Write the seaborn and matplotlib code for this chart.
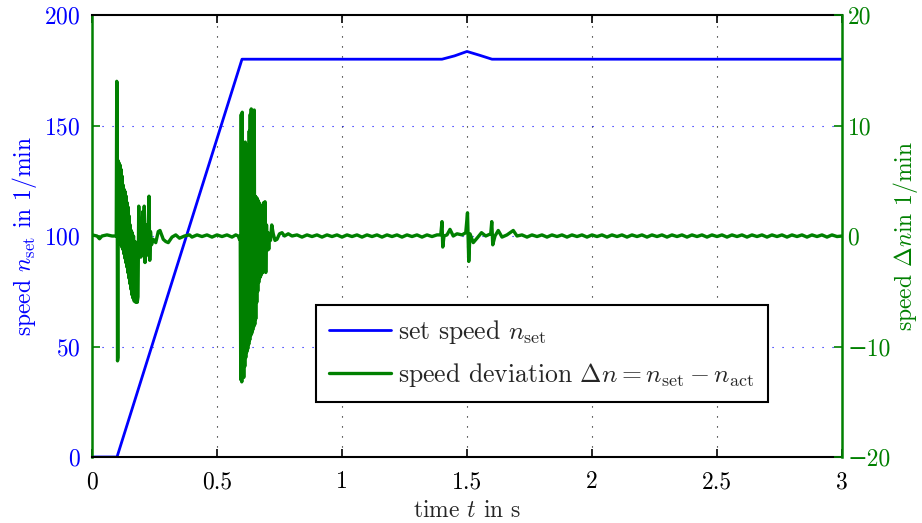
import numpy as np
import pandas as pd
import matplotlib
matplotlib.use('Agg')
import matplotlib.pyplot as plt
import seaborn as sns

## set speed (blue, left axis)
t_set = [0.0, 0.1, 0.6, 1.4, 1.45, 1.5, 1.55, 1.6, 3.0]
n_set = [0.0, 0.0, 180.0, 180.0, 181.5, 183.5, 181.8, 180.0, 180.0]

## speed deviation (green, right axis)
dev_start = [(0.0, 0.1), (0.02, 0.0), (0.03, -0.25), (0.04, 0.0), (0.06, 0.1), (0.08, 0.0), (0.097, 0.0)]
dev_burst1 = [
    (0.099, 14.0), (0.1005, 13.8), (0.102, -11.3), (0.104, -11.0), (0.105, 6.8), (0.107, -0.4),
    (0.109, 6.6), (0.111, -0.5), (0.113, 6.4), (0.115, -0.8), (0.117, 6.0), (0.119, -1.0),
    (0.121, 5.4), (0.123, -1.2), (0.125, 4.6), (0.127, -1.6), (0.129, 4.2), (0.131, -2.0),
    (0.133, 4.0), (0.135, -2.4), (0.137, 3.6), (0.139, -2.8), (0.141, 3.0), (0.143, -3.3),
    (0.145, 2.6), (0.147, -3.8), (0.149, 1.8), (0.151, -4.3), (0.153, 1.0), (0.155, -4.8),
    (0.157, 0.5), (0.159, -5.3), (0.161, 0.3), (0.163, -5.6), (0.166, 0.0), (0.169, -5.9),
    (0.172, -0.5), (0.175, -6.0), (0.178, -1.5), (0.181, -6.0), (0.184, -5.5), (0.187, 2.7),
    (0.190, -1.9), (0.193, -1.0), (0.196, -1.9), (0.199, -0.8), (0.203, 2.2), (0.206, -1.5),
    (0.209, 2.7), (0.212, -2.4), (0.214, 0.5), (0.217, -1.8), (0.220, 1.0), (0.223, -0.8),
    (0.228, 3.6), (0.231, -2.2), (0.234, 0.4), (0.238, -0.8), (0.245, -0.3), (0.255, -0.6),
    (0.265, 0.4), (0.272, 0.5), (0.285, -0.3), (0.295, -0.5), (0.305, -0.6), (0.32, -0.1),
    (0.335, 0.1), (0.35, -0.2), (0.37, 0.0),
]
dev_flat1 = [(0.39, 0.1), (0.40, -0.1), (0.42, 0.1), (0.44, -0.05), (0.46, 0.1), (0.48, -0.1),
             (0.50, 0.1), (0.52, -0.05), (0.54, 0.1), (0.56, -0.1), (0.575, 0.1)]
dev_burst2 = [
    (0.585, 0.0), (0.590, -0.3), (0.593, 0.0), (0.595, -13.0), (0.597, 11.0), (0.599, -13.2),
    (0.601, 11.2), (0.603, -12.5), (0.605, 8.0), (0.607, -12.8), (0.609, 7.5), (0.611, -11.8),
    (0.613, 8.5), (0.615, -11.0), (0.617, 7.0), (0.619, -10.5), (0.621, 8.2), (0.623, -10.2),
    (0.625, 7.8), (0.627, -9.8), (0.629, 9.5), (0.631, -9.4), (0.633, 11.0), (0.635, -9.0),
    (0.637, 11.5), (0.639, -8.8), (0.641, 11.3), (0.643, -8.5), (0.645, 10.5), (0.647, -8.2),
    (0.649, 11.4), (0.651, -8.0), (0.653, 3.6), (0.655, -7.5), (0.657, 3.5), (0.659, -6.0),
    (0.661, 3.4), (0.663, -5.0), (0.665, 3.2), (0.667, -4.2), (0.669, 3.0), (0.671, -3.8),
    (0.673, 2.8), (0.675, -3.6), (0.677, 2.6), (0.679, -3.4), (0.681, 2.4), (0.683, -3.3),
    (0.686, 3.0), (0.689, -2.5), (0.692, 3.1), (0.695, -3.3), (0.698, 1.0), (0.701, -1.3),
    (0.704, 0.3), (0.707, -1.2), (0.710, 0.2), (0.714, -0.4), (0.719, 1.0), (0.725, 0.2),
    (0.732, -0.4), (0.740, -0.3), (0.750, 0.2), (0.760, 0.3), (0.770, 0.0), (0.785, 0.2), (0.80, 0.0),
]
dev_flat2 = [(0.82, 0.1), (0.84, -0.1), (0.86, 0.1), (0.88, -0.05), (0.90, 0.1), (0.92, -0.1),
             (0.94, 0.1), (0.96, -0.05), (0.98, 0.1), (1.0, -0.1), (1.02, 0.1), (1.04, -0.05),
             (1.06, 0.1), (1.08, -0.1), (1.10, 0.1), (1.12, -0.05), (1.14, 0.1), (1.16, -0.1),
             (1.18, 0.1), (1.20, -0.05), (1.22, 0.1), (1.24, -0.1), (1.26, 0.1), (1.28, -0.05),
             (1.30, 0.1), (1.32, -0.1), (1.34, 0.1), (1.36, -0.05), (1.38, 0.1)]
dev_event = [
    (1.395, 0.1), (1.400, 1.3), (1.403, -1.0), (1.408, 0.0), (1.420, 0.1), (1.432, 0.6),
    (1.445, 0.0), (1.460, 0.2), (1.480, 0.1), (1.495, 0.3), (1.502, 2.1), (1.507, -2.3),
    (1.512, 0.2), (1.525, -0.6), (1.540, -0.2), (1.558, 0.3), (1.575, 0.0), (1.595, 0.2),
    (1.599, 1.3), (1.603, -0.8), (1.612, 0.0), (1.625, 0.5), (1.640, -0.1), (1.660, 0.1),
    (1.685, 0.5), (1.700, 0.0),
]
dev_flat3 = [(1.72, 0.1), (1.74, -0.1), (1.76, 0.1), (1.78, -0.05), (1.80, 0.1), (1.82, -0.1),
             (1.84, 0.1), (1.86, -0.05), (1.88, 0.1), (1.90, -0.1), (1.92, 0.1), (1.94, -0.05),
             (1.96, 0.1), (1.98, -0.1), (2.00, 0.1), (2.02, -0.05), (2.04, 0.1), (2.06, -0.1),
             (2.08, 0.1), (2.10, -0.05), (2.12, 0.1), (2.14, -0.1), (2.16, 0.1), (2.18, -0.05),
             (2.20, 0.1), (2.22, -0.1), (2.24, 0.1), (2.26, -0.05), (2.28, 0.1), (2.30, -0.1),
             (2.32, 0.1), (2.34, -0.05), (2.36, 0.1), (2.38, -0.1), (2.40, 0.1), (2.42, -0.05),
             (2.44, 0.1), (2.46, -0.1), (2.48, 0.1), (2.50, -0.05), (2.52, 0.1), (2.54, -0.1),
             (2.56, 0.1), (2.58, -0.05), (2.60, 0.1), (2.62, -0.1), (2.64, 0.1), (2.66, -0.05),
             (2.68, 0.1), (2.70, -0.1), (2.72, 0.1), (2.74, -0.05), (2.76, 0.1), (2.78, -0.1),
             (2.80, 0.1), (2.82, -0.05), (2.84, 0.1), (2.86, -0.1), (2.88, 0.1), (2.90, -0.05),
             (2.92, 0.1), (2.94, -0.1), (2.96, 0.1), (2.98, -0.05), (3.0, 0.0)]

x_ticks = [0, 0.5, 1, 1.5, 2, 2.5, 3]
x_labels = ['0', '0.5', '1', '1.5', '2', '2.5', '3']
left_ticks = [0, 50, 100, 150, 200]
right_ticks = [-20, -10, 0, 10, 20]
right_labels = ['\u221220', '\u221210', '0', '10', '20']

BLUE = '#0000ff'
GREEN = '#008000'
FS = 17

df_set = pd.DataFrame({'t': t_set, 'n': n_set})
df_dev = pd.DataFrame(dev_start + dev_burst1 + dev_flat1 + dev_burst2 + dev_flat2 + dev_event + dev_flat3,
                      columns=['t', 'dn'])

sns.set_style('white')
plt.rcParams['font.family'] = ['cmr10', 'DejaVu Serif']
plt.rcParams['mathtext.fontset'] = 'cm'
plt.rcParams['axes.formatter.use_mathtext'] = True
plt.rcParams['axes.unicode_minus'] = True

fig = plt.figure(figsize=(9.22, 5.23), dpi=100)
ax = fig.add_axes([92 / 922, 1 - 457 / 523, 750 / 922, 442 / 523])
ax2 = ax.twinx()

sns.lineplot(x='t', y='n', data=df_set, ax=ax, color=BLUE, linewidth=2.0,
             label=r'set speed $n_{\rm set}$', legend=False, estimator=None, sort=False)
sns.lineplot(x='t', y='dn', data=df_dev, ax=ax2, color=GREEN, linewidth=2.4,
             label=r'speed deviation $\Delta n = n_{\rm set} - n_{\rm act}$', legend=False,
             estimator=None, sort=False)

ax.set_xlim(0, 3)
ax.set_ylim(0, 200)
ax2.set_ylim(-20, 20)
ax.set_xticks(x_ticks)
ax.set_xticklabels(x_labels)
ax.set_yticks(left_ticks)
ax2.set_yticks(right_ticks)
ax2.set_yticklabels(right_labels)

# grid: vertical black dotted, horizontal blue dotted
for xv in x_ticks[1:-1]:
    ax.axvline(xv, color='black', linestyle=(0, (1, 8)), linewidth=0.8, zorder=0)
for yv in left_ticks[1:-1]:
    ax.axhline(yv, color=BLUE, linestyle=(0, (1, 8)), linewidth=0.8, zorder=0)

ax.tick_params(axis='x', direction='in', top=True, bottom=True, length=6, width=1.2,
               labelsize=FS, pad=10, colors='black')
ax.tick_params(axis='y', direction='in', left=True, right=False, length=6, width=1.2,
               labelsize=FS, pad=8, colors=GREEN, labelcolor=BLUE)
ax2.tick_params(axis='y', direction='in', right=True, length=6, width=1.2,
                labelsize=FS, pad=4, colors=GREEN, labelcolor=GREEN)

for sp in ['top', 'bottom']:
    ax.spines[sp].set_color('black')
    ax.spines[sp].set_linewidth(1.5)
    ax2.spines[sp].set_visible(False)
ax.spines['left'].set_color(GREEN)
ax.spines['left'].set_linewidth(1.8)
ax2.spines['left'].set_visible(False)
ax2.spines['right'].set_color(GREEN)
ax2.spines['right'].set_linewidth(1.8)
ax.spines['right'].set_visible(False)

ax.set_xlabel(r'time $t$ in s', fontsize=FS, labelpad=5)
ax.set_ylabel(r'speed $n_{\rm set}$ in 1/min', fontsize=FS, color=BLUE, labelpad=4)
ax2.set_ylabel(r'speed $\Delta n$in 1/min', fontsize=FS, color=GREEN, labelpad=0)

h1, l1 = ax.get_legend_handles_labels()
h2, l2 = ax2.get_legend_handles_labels()
leg = ax2.legend(h1 + h2, l1 + l2, loc='lower left', bbox_to_anchor=(0.299, 0.124),
                 fontsize=18.5, frameon=True, fancybox=False, framealpha=1, edgecolor='black',
                 handlelength=2.4, handletextpad=0.3, labelspacing=0.6, borderpad=0.5,
                 borderaxespad=0)
leg.get_frame().set_linewidth(1.5)

plt.savefig('out.png', dpi=100)
